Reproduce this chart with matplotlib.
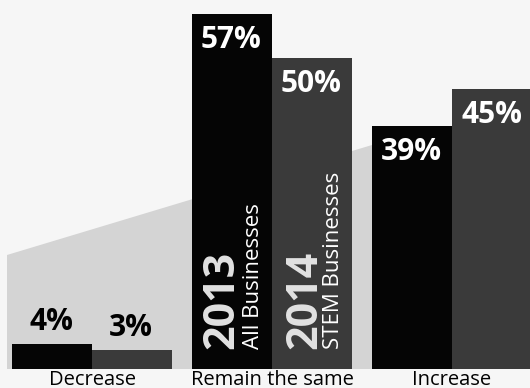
import numpy as np
import matplotlib.pyplot as plt
from matplotlib.patches import Polygon

plt.rcParams['font.family'] = ['Open Sans', 'DejaVu Sans']

categories = ["Decrease", "Remain the same", "Increase"]
vals_2013 = [4, 57, 39]
vals_2014 = [3, 50, 45]
labels_2013 = ["4%", "57%", "39%"]
labels_2014 = ["3%", "50%", "45%"]

W, H = 530, 388
fig = plt.figure(figsize=(W / 100, H / 100), dpi=100)
fig.patch.set_facecolor("#f6f6f6")

# axes: baseline at 369px from top, 180px between groups
ax = fig.add_axes([0, 19 / H, 1, 369 / H])
ax.set_facecolor("none")
ax.set_zorder(1)
ax.set_xlim(-92 / 180, (W - 92) / 180)
ax.set_ylim(0, 369 / 6.22)

# shaded wedge in the background (pixel coords from top-left)
wedge = [(7, 255), (372, 145), (372, 369), (7, 369)]
poly = Polygon([(x / W, 1 - y / H) for x, y in wedge], closed=True,
               transform=fig.transFigure, facecolor="#d4d4d4", edgecolor="none", zorder=-1)
fig.patches.append(poly)

x = np.arange(len(categories))
w = 80 / 180
b1 = ax.bar(x - w / 2, vals_2013, w, color="#050505", zorder=2)
b2 = ax.bar(x + w / 2, vals_2014, w, color="#3a3a3a", zorder=2)

for bars, labs, vals in ((b1, labels_2013, vals_2013), (b2, labels_2014, vals_2014)):
    for rect, lab, v in zip(bars, labs, vals):
        if v > 10:
            ax.annotate(lab, (rect.get_x(), v), xytext=(9, -26), textcoords="offset pixels",
                        ha="left", va="center", color="white", fontsize=21.5, fontweight="bold", zorder=3)
        else:
            ax.annotate(lab, (rect.get_x(), v), xytext=(17, 22), textcoords="offset pixels",
                        ha="left", va="center", color="black", fontsize=21.5, fontweight="bold", zorder=3)

# legend text inside the "Remain the same" bars
r13 = b1[1].get_x()
r14 = b2[1].get_x()
ax.annotate("2013", (r13, 0), xytext=(8, 20), textcoords="offset pixels", rotation=90,
            ha="left", va="bottom", color="#e2e2e2", fontsize=31, fontweight="bold", zorder=3)
ax.annotate("All Businesses", (r13, 0), xytext=(51, 20), textcoords="offset pixels", rotation=90,
            ha="left", va="bottom", color="white", fontsize=16, zorder=3)
ax.annotate("2014", (r14, 0), xytext=(11, 20), textcoords="offset pixels", rotation=90,
            ha="left", va="bottom", color="#e2e2e2", fontsize=31, fontweight="bold", zorder=3)
ax.annotate("STEM Businesses", (r14, 0), xytext=(51, 20), textcoords="offset pixels", rotation=90,
            ha="left", va="bottom", color="white", fontsize=16, zorder=3)

ax.set_xticks(x)
ax.set_xticklabels(categories, fontsize=14.5)
ax.tick_params(axis="x", length=0, pad=1)
ax.set_yticks([])
for s in ax.spines.values():
    s.set_visible(False)

fig.savefig("out.png", dpi=100, facecolor=fig.get_facecolor())
